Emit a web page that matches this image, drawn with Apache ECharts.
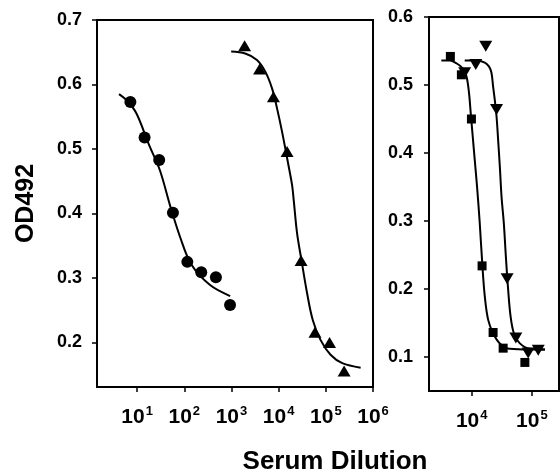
<!DOCTYPE html>
<html>
<head>
<meta charset="utf-8">
<script src="https://cdn.jsdelivr.net/npm/echarts@6/dist/echarts.min.js"></script>
<style>html,body{margin:0;padding:0;background:#fff;}#c{width:560px;height:475px;}</style>
</head>
<body>
<div id="c"></div>
<script>
// ---- Left panel data ----
var circleX = [7.2, 14.4, 29.4, 57.5, 116, 229, 468, 933];
var circleY = [0.573, 0.518, 0.483, 0.401, 0.325, 0.309, 0.301, 0.258];
var circleFitX = [4.14, 6.3, 9.7, 18.0, 30.4, 49.7, 81.1, 143.6, 352, 938];
var circleFitY = [0.585, 0.574, 0.555, 0.506, 0.467, 0.413, 0.364, 0.320, 0.289, 0.272];

var triX = [1900, 3950, 7760, 15100, 29900, 58900, 120000, 244000];
var triY = [0.660, 0.624, 0.581, 0.496, 0.327, 0.216, 0.200, 0.156];
var triFitX = [986, 1954, 3467, 5212, 7244, 9247, 11803, 15101, 19275, 20845, 24604, 30409, 40179, 52845, 77090, 125893, 223357, 547016];
var triFitY = [0.651, 0.648, 0.638, 0.620, 0.594, 0.563, 0.527, 0.486, 0.444, 0.421, 0.369, 0.328, 0.276, 0.235, 0.204, 0.181, 0.168, 0.161];

// ---- Right panel data ----
var squareX = [4416, 6730, 9886, 14859, 22646, 33266, 76384];
var squareY = [0.542, 0.515, 0.450, 0.234, 0.136, 0.113, 0.092];
var squareFitX = [3126, 4295, 5559, 6998, 8166, 9016, 9616, 10280, 11220, 12246, 13583, 15066, 16482, 18707, 22646, 29309, 42954, 92683, 164816];
var squareFitY = [0.536, 0.536, 0.532, 0.525, 0.513, 0.488, 0.459, 0.429, 0.390, 0.351, 0.297, 0.233, 0.189, 0.155, 0.135, 0.120, 0.112, 0.111, 0.111];

var downX = [7638, 11668, 17100, 25823, 38726, 54075, 86696, 127350];
var downY = [0.518, 0.530, 0.557, 0.464, 0.215, 0.128, 0.106, 0.110];
var downFitX = [7638, 11967, 16482, 19409, 21281, 22646, 24155, 25823, 27416, 29309, 31261, 34119, 36898, 40272, 44157, 50119, 63096, 92683, 164816];
var downFitY = [0.536, 0.536, 0.533, 0.527, 0.518, 0.498, 0.478, 0.454, 0.420, 0.380, 0.336, 0.297, 0.248, 0.199, 0.160, 0.135, 0.120, 0.112, 0.111];

// ---- Ticks ----
var leftXTicks = [10, 100, 1000, 10000, 100000, 1000000];
var leftYTicks = [0.2, 0.3, 0.4, 0.5, 0.6, 0.7];
var rightXTicks = [10000, 100000];
var rightYTicks = [0.1, 0.2, 0.3, 0.4, 0.5, 0.6];

var xTitle = 'Serum Dilution';
var yTitle = 'OD492';

function zip(a, b) { return a.map(function (v, i) { return [v, b[i]]; }); }

var FONT = 'Liberation Sans, Arial, sans-serif';
function supLabel(v) {
  var e = Math.round(Math.log(v) / Math.LN10);
  return '{b|10}{s|' + e + '}';
}
var xLabelRich = {
  b: { fontSize: 21, fontWeight: 'bold', fontFamily: FONT, color: '#000' },
  s: { fontSize: 13, fontWeight: 'bold', fontFamily: FONT, color: '#000', padding: [0, 0, 12, 1] }
};

function xAxisCfg(grid, min, max, ticks) {
  return {
    type: 'log', logBase: 10, gridIndex: grid, min: min, max: max,
    axisLine: { show: true, onZero: false, lineStyle: { color: '#000', width: 2 } },
    axisTick: { show: true, inside: false, length: 5, lineStyle: { color: '#000', width: 1.5 }, customValues: ticks },
    axisLabel: { show: true, margin: 18, formatter: supLabel, rich: xLabelRich, customValues: ticks },
    splitLine: { show: false }, minorTick: { show: false }
  };
}
function yAxisCfg(grid, min, max, ticks, margin) {
  return {
    type: 'value', gridIndex: grid, min: min, max: max,
    axisLine: { show: true, onZero: false, lineStyle: { color: '#000', width: 2 } },
    axisTick: { show: true, inside: false, length: 5, lineStyle: { color: '#000', width: 1.5 }, customValues: ticks },
    axisLabel: { show: true, margin: margin, fontSize: 18, fontWeight: 'bold', fontFamily: FONT, color: '#000',
      customValues: ticks, formatter: function (v) { return v.toFixed(1); } },
    splitLine: { show: false }
  };
}

function lineS(x, y, xi, yi, data) {
  return { type: 'line', xAxisIndex: xi, yAxisIndex: yi, data: data, smooth: 0.35, showSymbol: false,
    symbol: 'none', lineStyle: { color: '#000', width: 2 }, silent: true, z: 2 };
}
function scat(xi, yi, data, symbol, size, rot) {
  return { type: 'scatter', xAxisIndex: xi, yAxisIndex: yi, data: data, symbol: symbol, symbolSize: size,
    symbolRotate: rot || 0, itemStyle: { color: '#000', opacity: 1 }, z: 3 };
}

var chart = echarts.init(document.getElementById('c'), null, { renderer: 'canvas' });
chart.setOption({
  animation: false,
  backgroundColor: '#fff',
  grid: [
    { left: 97, top: 20, width: 276, height: 367, show: true, borderColor: '#000', borderWidth: 2, backgroundColor: 'transparent' },
    { left: 429, top: 17, width: 130, height: 374, show: true, borderColor: '#000', borderWidth: 2, backgroundColor: 'transparent' }
  ],
  xAxis: [
    xAxisCfg(0, Math.pow(10, 0.15), 1000000, leftXTicks),
    xAxisCfg(1, Math.pow(10, 3.29), Math.pow(10, 5.45), rightXTicks)
  ],
  yAxis: [
    Object.assign(yAxisCfg(0, 0.131, 0.7, leftYTicks, 15), {
      name: yTitle, nameLocation: 'middle', nameGap: 58, nameRotate: 90,
      nameTextStyle: { fontSize: 25, fontWeight: 'bold', fontFamily: FONT, color: '#000' }
    }),
    yAxisCfg(1, 0.05, 0.6, rightYTicks, 16)
  ],
  graphic: [
    { type: 'text', x: 335, y: 462, style: { text: xTitle, textAlign: 'center', textVerticalAlign: 'middle',
      font: 'bold 26px ' + FONT, fill: '#000' } }
  ],
  series: [
    lineS(0, 0, 0, 0, zip(circleFitX, circleFitY)),
    scat(0, 0, zip(circleX, circleY), 'circle', 12),
    lineS(0, 0, 0, 0, zip(triFitX, triFitY)),
    scat(0, 0, zip(triX, triY), 'triangle', [13, 11]),
    lineS(0, 0, 1, 1, zip(squareFitX, squareFitY)),
    scat(1, 1, zip(squareX, squareY), 'rect', 9),
    lineS(0, 0, 1, 1, zip(downFitX, downFitY)),
    scat(1, 1, zip(downX, downY), 'triangle', [13, 11], 180)
  ]
});
</script>
</body>
</html>
